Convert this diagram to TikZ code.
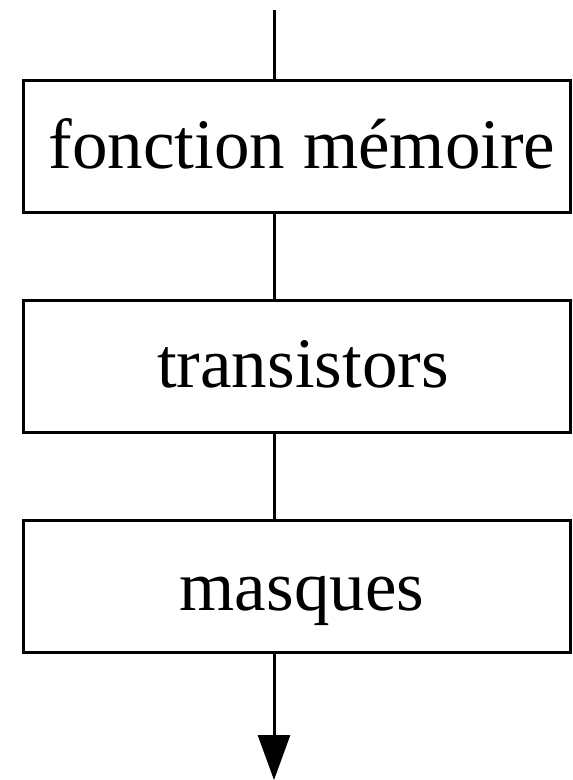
\documentclass[tikz,border=0pt]{standalone}
\usepackage{fontspec}
\setmainfont{Liberation Serif}
\usetikzlibrary{arrows.meta}
\begin{document}
\begin{tikzpicture}[x=1pt,y=-1pt,
  boxstyle/.style={draw,line width=3pt,minimum width=547pt,minimum height=132pt,inner sep=0pt},
  lbl/.style={anchor=base,inner sep=0pt,font=\fontsize{71}{80}\selectfont},
  conn/.style={line width=3pt}]
\useasboundingbox (0,0) rectangle (573,780);
\node[boxstyle] (b1) at (296.5,146) {};
\node[boxstyle] (b2) at (296.5,366) {};
\node[boxstyle] (b3) at (296.5,586) {};
\node[lbl] (t1) at (302,168) {fonction mémoire};
\node[lbl] (t2) at (303,387) {transistors};
\node[lbl] (t3) at (302,610) {masques};
\coordinate (top) at (274,10);
\coordinate (tip) at (274,780);
\draw[conn] (top) -- (top |- b1.north);
\draw[conn] (top |- b1.south) -- (top |- b2.north);
\draw[conn] (top |- b2.south) -- (top |- b3.north);
\draw[conn,-{Triangle[length=45pt,width=32pt]}] (top |- b3.south) -- (tip);
\end{tikzpicture}
\end{document}
